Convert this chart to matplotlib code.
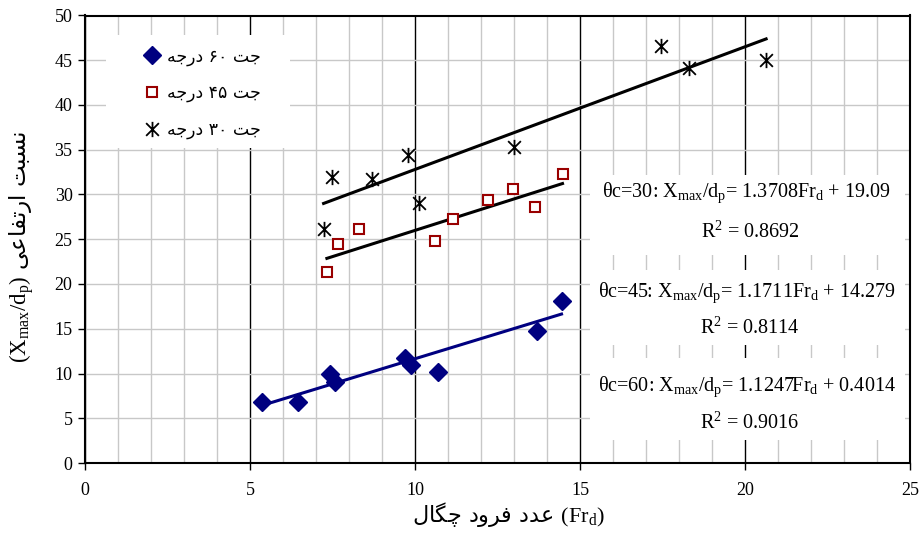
import matplotlib
matplotlib.use("Agg")
from matplotlib import pyplot as plt
from matplotlib.pyplot import MultipleLocator
from matplotlib.path import Path
from matplotlib.patches import Rectangle
import numpy as np

# data
x60 = [5.35, 6.44, 7.42, 7.57, 9.70, 9.88, 10.70, 13.71, 14.44]
y60 = [6.8, 6.8, 10.0, 9.0, 11.7, 11.0, 10.2, 14.8, 18.1]
x45 = [7.33, 7.66, 8.30, 10.61, 11.16, 12.22, 12.98, 13.65, 14.47]
y45 = [21.3, 24.5, 26.1, 24.8, 27.3, 29.4, 30.6, 28.6, 32.3]
x30 = [7.23, 7.48, 8.69, 9.79, 10.12, 13.01, 17.45, 18.30, 20.64]
y30 = [26.2, 32.0, 31.7, 34.4, 29.1, 35.3, 46.6, 44.1, 45.0]

# trend line coefficients (slope, intercept, R2) as printed on the chart
fit30 = (1.3708, 19.09, "19.09", 0.8692)
fit45 = (1.1711, 14.279, "14.279", 0.8114)
fit60 = (1.1247, 0.4014, "0.4014", 0.9016)

xticks = [0, 5, 10, 15, 20, 25]
yticks = [0, 5, 10, 15, 20, 25, 30, 35, 40, 45, 50]

# --- simple persian shaping (matplotlib has no arabic text layout) ---
FORMS = {  # isolated, final, initial, medial
    'ا': ('\uFE8D', '\uFE8E', None, None),
    'ب': ('\uFE8F', '\uFE90', '\uFE91', '\uFE92'),
    'ت': ('\uFE95', '\uFE96', '\uFE97', '\uFE98'),
    'ج': ('\uFE9D', '\uFE9E', '\uFE9F', '\uFEA0'),
    'چ': ('\uFB7A', '\uFB7B', '\uFB7C', '\uFB7D'),
    'د': ('\uFEA9', '\uFEAA', None, None),
    'ر': ('\uFEAD', '\uFEAE', None, None),
    'س': ('\uFEB1', '\uFEB2', '\uFEB3', '\uFEB4'),
    'ع': ('\uFEC9', '\uFECA', '\uFECB', '\uFECC'),
    'ف': ('\uFED1', '\uFED2', '\uFED3', '\uFED4'),
    'ق': ('\uFED5', '\uFED6', '\uFED7', '\uFED8'),
    'گ': ('\uFB92', '\uFB93', '\uFB94', '\uFB95'),
    'ل': ('\uFEDD', '\uFEDE', '\uFEDF', '\uFEE0'),
    'ن': ('\uFEE5', '\uFEE6', '\uFEE7', '\uFEE8'),
    'و': ('\uFEED', '\uFEEE', None, None),
    'ه': ('\uFEE9', '\uFEEA', '\uFEEB', '\uFEEC'),
    'ی': ('\uFBFC', '\uFBFD', '\uFBFE', '\uFBFF'),
}


def shape_word(w):
    out = []
    for i, c in enumerate(w):
        if c not in FORMS:
            out.append(c)
            continue
        prev = w[i - 1] if i > 0 else None
        nxt = w[i + 1] if i < len(w) - 1 else None
        jp = prev in FORMS and FORMS[prev][2] is not None
        jn = nxt in FORMS and FORMS[c][2] is not None
        iso, fin, ini, med = FORMS[c]
        if jp and jn:
            out.append(med)
        elif jp:
            out.append(fin)
        elif jn:
            out.append(ini)
        else:
            out.append(iso)
    return "".join(out)


def fa(text):
    words = []
    for w in reversed(text.split(" ")):
        if any(c in FORMS for c in w):
            words.append(shape_word(w)[::-1])
        else:
            words.append(w)
    return " ".join(words)


plt.rcParams['mathtext.fontset'] = 'custom'
plt.rcParams['mathtext.rm'] = 'Liberation Serif'
plt.rcParams['mathtext.it'] = 'Liberation Serif:italic'
plt.rcParams['font.family'] = ['Liberation Serif', 'DejaVu Sans']

fig = plt.figure(figsize=(9.22, 5.45), dpi=100)
ax = fig.add_axes([85 / 922, 82 / 545, 825 / 922, 447.5 / 545])

# excel style star marker: X with a vertical bar
star = Path([(-1, -1), (1, 1), (-1, 1), (1, -1), (0, -1.2), (0, 1.2)],
            [Path.MOVETO, Path.LINETO, Path.MOVETO, Path.LINETO, Path.MOVETO, Path.LINETO])

ax.plot(x60, y60, ls="none", marker="D", ms=9.5, color="#000080", label=fa("جت ۶۰ درجه"), zorder=4)
ax.plot(x45, y45, ls="none", marker="s", ms=7, mfc="white", mec="#990000", mew=1.5,
        label=fa("جت ۴۵ درجه"), zorder=4)
ax.plot(x30, y30, ls="none", marker=star, ms=11, mfc="none", mec="black", mew=1.3,
        label=fa("جت ۳۰ درجه"), zorder=4)

for xs, fit, col in [(x60, fit60, "#000080"), (x45, fit45, "black"), (x30, fit30, "black")]:
    xx = np.array([min(xs), max(xs)])
    ax.plot(xx, fit[0] * xx + fit[1], color=col, lw=2.2, zorder=3)

ax.set_xlim(0, 25)
ax.set_ylim(0, 50)
ax.set_xticks(xticks)
ax.set_yticks(yticks)
ax.xaxis.set_minor_locator(MultipleLocator(1))
ax.tick_params(which="minor", length=0)
ax.tick_params(which="major", direction="out", length=5, width=1, colors="black", labelsize=13)
ax.tick_params(axis="x", pad=9)
ax.tick_params(axis="y", pad=4)
for s in ax.spines.values():
    s.set_linewidth(1.5)

ax.grid(which="minor", axis="x", color="#c8c8c8", lw=1)
ax.grid(which="major", axis="y", color="#c8c8c8", lw=1)
ax.grid(which="major", axis="x", color="black", lw=1)

ax.set_xlabel(fa("عدد فرود چگال") + r" $\mathrm{(Fr_{d})}$", family="DejaVu Sans", fontsize=16)
ax.xaxis.set_label_coords(0.513, -0.083)
ax.set_ylabel(r"$\mathrm{(X_{max}/d_{p})}$ " + fa("نسبت ارتفاعی"), family="DejaVu Sans", fontsize=16.5)
ax.yaxis.set_label_coords(-0.06, 0.483)

# white panel behind the legend
ax.add_patch(Rectangle((0.0255, 0.704), 0.2225, 0.252, transform=ax.transAxes,
                       facecolor="white", edgecolor="none", zorder=2.6))
leg = ax.legend(loc="upper left", bbox_to_anchor=(0.041, 0.979), frameon=False,
                labelspacing=1.05, handletextpad=0.3, handlelength=1.2, borderpad=0.8,
                prop={"family": "DejaVu Sans", "size": 12.5})

# equation boxes
boxes = [(0.465, 0.644, fit30, "30", 0.603, 0.516),
         (0.264, 0.431, fit45, "45", 0.380, 0.302),
         (0.051, 0.235, fit60, "60", 0.170, 0.089)]
for y0, y1, fit, ang, ly1, ly2 in boxes:
    ax.add_patch(Rectangle((0.612, y0), 0.382, y1 - y0, transform=ax.transAxes,
                           facecolor="white", edgecolor="none", zorder=2.6))
    eq = ("θc=" + ang + r": X$_{\mathrm{max}}$/d$_{\mathrm{p}}$= " + "%.4f" % fit[0]
          + r"Fr$_{\mathrm{d}}$ + " + fit[2])
    ax.text(0.802, ly1, eq, transform=ax.transAxes, ha="center", va="center",
            fontsize=14.5, family="Liberation Serif", zorder=3)
    ax.text(0.806, ly2, r"R$^{2}$ = %.4f" % fit[3], transform=ax.transAxes, ha="center",
            va="center", fontsize=14.5, family="Liberation Serif", zorder=3)

plt.savefig("out.png", dpi=100)
